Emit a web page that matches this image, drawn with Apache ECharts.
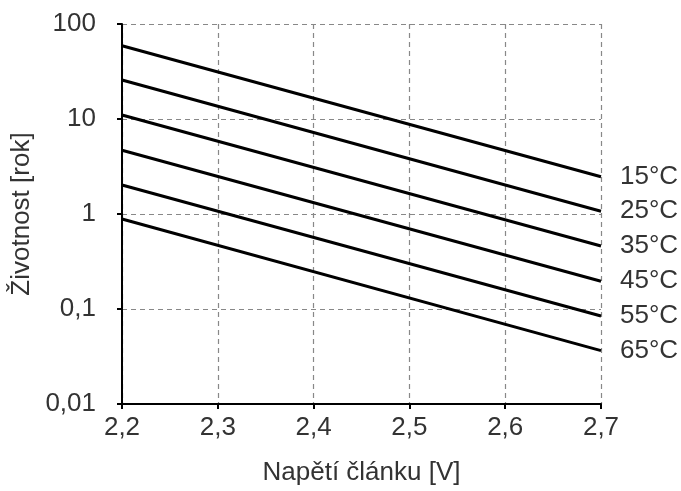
<!DOCTYPE html>
<html>
<head>
<meta charset="utf-8">
<script src="https://cdn.jsdelivr.net/npm/echarts@6/dist/echarts.min.js"></script>
<style>html,body{margin:0;padding:0;background:#fff}#c{width:681px;height:491px}</style>
</head>
<body>
<div id="c"></div>
<script>
var voltages = [2.2, 2.7];
var temps = ['15°C', '25°C', '35°C', '45°C', '55°C', '65°C'];
var life15 = [59, 2.47];
var life25 = [25.7, 1.07];
var life35 = [11, 0.46];
var life45 = [4.69, 0.196];
var life55 = [2.02, 0.0845];
var life65 = [0.887, 0.0365];
var yTicks = [0.01, 0.1, 1, 10, 100];

var lives = [life15, life25, life35, life45, life55, life65];
var font = '"Liberation Sans", Arial, sans-serif';
var txt = '#333';

var series = temps.map(function (t, i) {
  return {
    name: t,
    type: 'line',
    data: voltages.map(function (v, j) { return [v, lives[i][j]]; }),
    showSymbol: false,
    symbol: 'none',
    lineStyle: { color: '#000', width: 3 },
    endLabel: {
      show: true, distance: 19, formatter: t,
      color: txt, fontSize: 26, fontFamily: font
    },
    silent: true
  };
});

var chart = echarts.init(document.getElementById('c'), null, { renderer: 'canvas' });
chart.setOption({
  animation: false,
  backgroundColor: '#fff',
  grid: { left: 122, right: 80, top: 24, bottom: 83, containLabel: false },
  xAxis: {
    type: 'value', min: 2.2, max: 2.7, interval: 0.1,
    name: 'Napětí článku [V]', nameLocation: 'middle', nameGap: 56,
    nameTextStyle: { color: txt, fontSize: 26, fontFamily: font },
    axisLine: { show: true, onZero: false, lineStyle: { color: '#000', width: 2 } },
    axisTick: { show: true, length: 5, lineStyle: { color: '#000', width: 2 } },
    axisLabel: {
      color: txt, fontSize: 26, fontFamily: font, margin: 11,
      formatter: function (v) { return v.toFixed(1).replace('.', ','); }
    },
    splitLine: { show: true, lineStyle: { color: '#888', type: [5, 4], width: 1.2 } }
  },
  yAxis: {
    type: 'log', logBase: 10, min: 0.01, max: 100,
    name: 'Životnost [rok]', nameLocation: 'middle', nameGap: 73,
    nameTextStyle: { color: txt, fontSize: 26, fontFamily: font },
    axisLine: { show: true, lineStyle: { color: '#000', width: 2 } },
    axisTick: { show: true, length: 5, lineStyle: { color: '#000', width: 2 } },
    axisLabel: {
      color: txt, fontSize: 26, fontFamily: font, margin: 26,
      formatter: function (v) {
        var s = yTicks.find(function (t) { return Math.abs(t - v) / t < 1e-6; });
        return String(s !== undefined ? s : v).replace('.', ',');
      }
    },
    splitLine: { show: true, lineStyle: { color: '#888', type: [5, 4], width: 1.2 } }
  },
  series: series
});
</script>
</body>
</html>
